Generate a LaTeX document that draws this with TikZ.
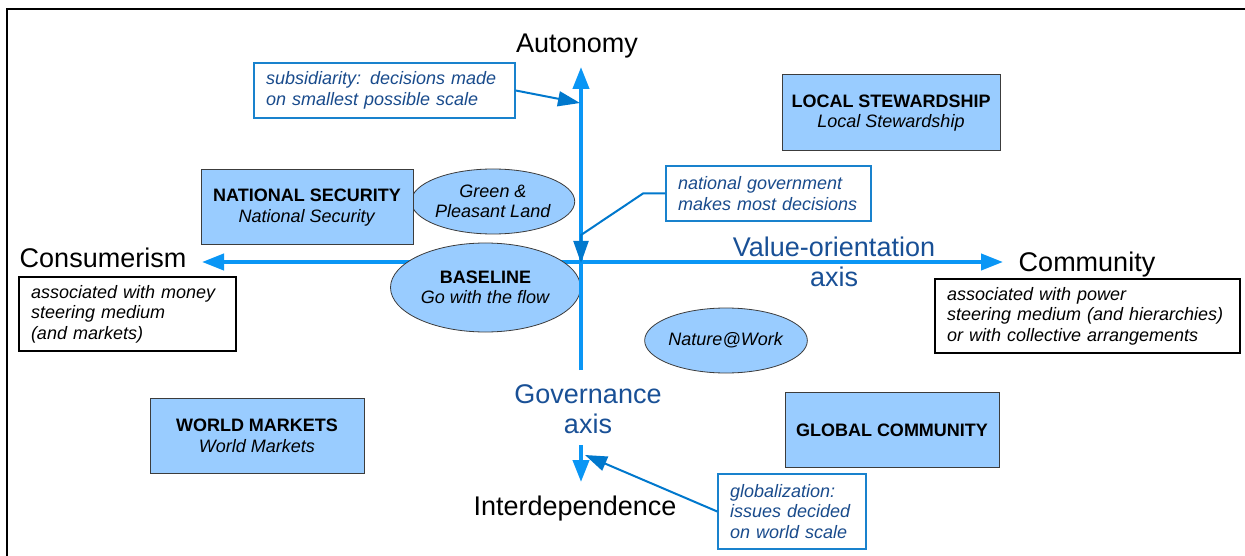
\documentclass[tikz,border=0pt]{standalone}
\usepackage{fontspec}
\setmainfont{Liberation Sans}
\usetikzlibrary{arrows.meta,shapes.geometric}
\definecolor{axisblue}{RGB}{10,150,245}
\definecolor{callborder}{RGB}{25,130,205}
\definecolor{callarrow}{RGB}{0,120,205}
\definecolor{calltext}{RGB}{25,75,140}
\definecolor{labelblue}{RGB}{25,80,150}
\definecolor{boxfill}{RGB}{153,204,255}
\definecolor{boxborder}{RGB}{60,60,60}
\tikzset{
  bigtext/.style={font=\fontsize{27}{30.5}\selectfont, align=center, anchor=base, inner sep=0pt},
  scen/.style={draw=boxborder, fill=boxfill, line width=1pt, align=center,
    font=\fontsize{18}{20.5}\selectfont, inner sep=0pt},
  scenell/.style={ellipse, draw=boxborder, fill=boxfill, line width=0.8pt, align=center,
    font=\fontsize{18}{20.5}\selectfont, inner sep=0pt},
  callout/.style={draw=callborder, fill=white, line width=1.5pt, text=calltext, align=left,
    inner xsep=12pt, inner ysep=0pt, font=\fontsize{18}{20.5}\selectfont\itshape},
  descbox/.style={draw=black, fill=white, line width=1.5pt, text=black, align=left,
    inner xsep=12pt, inner ysep=0pt, font=\fontsize{18}{20.5}\selectfont\itshape},
  axisline/.style={draw=axisblue, line width=4pt, -{Triangle[length=22pt,width=16pt]}},
  callline/.style={draw=callborder, line width=2pt, -{Triangle[length=22pt,width=15pt,fill=callarrow]}, color=callarrow},
}
\begin{document}
\begin{tikzpicture}[x=1pt,y=-1pt]
\useasboundingbox (0,0) rectangle (1245,556);
\fill[white] (0,0) rectangle (1245,556);
% frame
\draw[line width=2pt, black] (7,560) -- (7,9) -- (1250,9);

% axis coordinates
\coordinate (ctr) at (581,262);
\coordinate (topt) at (581,67);
\coordinate (upbot) at (581,370);
\coordinate (lowtop) at (581,445);
\coordinate (bott) at (581,482);
\coordinate (leftt) at (202,262);
\coordinate (rightt) at (1003,262);

% horizontal axis
\draw[axisline, {Triangle[length=22pt,width=16pt]}-{Triangle[length=22pt,width=16pt]}] (leftt) -- (rightt);

% ellipses
\node[scenell, minimum width=190pt, minimum height=89pt] (base) at (485.5,287.5)
  {\textbf{BASELINE}\\\textit{Go with the flow}};
\node[scenell, minimum width=160pt, minimum height=65pt] (green) at (493,201.5)
  {\textit{Green \&}\\\textit{Pleasant Land}};
\node[scenell, minimum width=160pt, minimum height=65pt] (nature) at (726,340.5)
  {\textit{Nature@Work}};

% vertical axis
\draw[axisline] (upbot) -- (topt);
\draw[axisline] (lowtop) -- (bott);

% scenario boxes
\node[scen, minimum width=218pt, minimum height=76pt] (ls) at (891,113)
  {\textbf{LOCAL STEWARDSHIP}\\\textit{Local Stewardship}};
\node[scen, minimum width=212pt, minimum height=75pt] (ns) at (307,207.5)
  {\textbf{NATIONAL SECURITY}\\\textit{National Security}};
\node[scen, minimum width=214pt, minimum height=75pt] (wm) at (257,436)
  {\textbf{WORLD MARKETS}\\\textit{World Markets}};
\node[scen, minimum width=214pt, minimum height=75pt] (gc) at (892,430)
  {\textbf{GLOBAL COMMUNITY}};

% callouts
\node[callout, text width=237pt, minimum height=55pt] (sub) at (384.5,90.5)
  {subsidiarity: decisions made\\on smallest possible scale};
\node[callout, text width=181pt, minimum height=55pt] (natgov) at (768.5,193.5)
  {national government\\makes most decisions};
\node[callout, text width=124pt, minimum height=75pt] (glob) at (792,511.5)
  {globalization:\\issues decided\\on world scale};

% description boxes
\node[descbox, text width=193pt, minimum height=74pt] (cdesc) at (127.5,314)
  {associated with money\\steering medium\\(and markets)};
\node[descbox, text width=281pt, minimum height=74pt] (mdesc) at (1087.5,316)
  {associated with power\\steering medium (and hierarchies)\\or with collective arrangements};

% callout connectors
\coordinate (subtip) at (580,103);
\coordinate (globtip) at (585,455);
\coordinate (ngbend) at (643,193.5);
\coordinate (ngknee) at (581,235);
\coordinate (ngtip) at (581,263);
\draw[callline] (sub.east) -- (subtip);
\draw[callline] (glob.west) -- (globtip);
\draw[callline] (natgov.west) -- (ngbend) -- (ngknee) -- (ngtip);

% axis labels
\node[bigtext] (auto) at (577,53) {Autonomy};
\node[bigtext] (cons) at (103,268) {Consumerism};
\node[bigtext] (comm) at (1087,272) {Community};
\node[bigtext] (inter) at (575,515) {Interdependence};
\node[bigtext, text=labelblue, font=\fontsize{27}{30}\selectfont] (gov) at (588,433) {Governance\\axis};
\node[bigtext, text=labelblue, font=\fontsize{27}{31}\selectfont] (val) at (834,287) {Value-orientation\\axis};
\end{tikzpicture}
\end{document}
